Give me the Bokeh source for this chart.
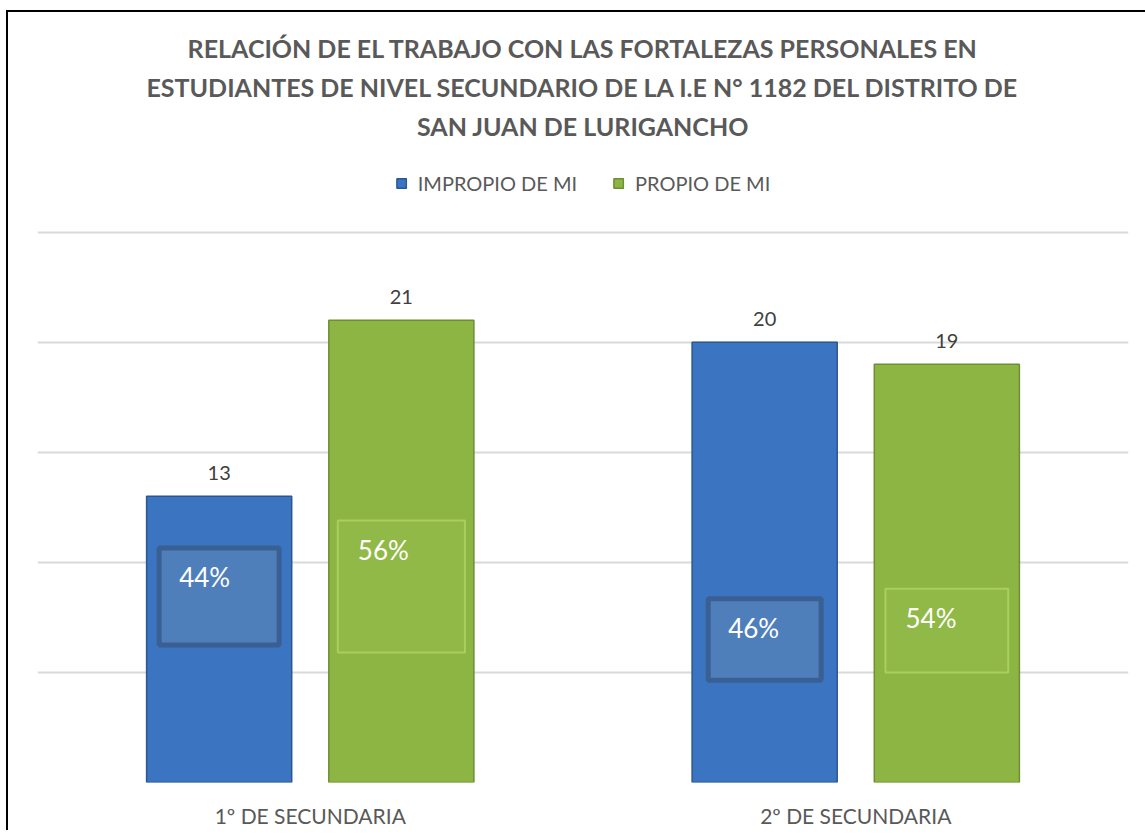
from bokeh.plotting import figure
from bokeh.layouts import column, row
from bokeh.models import ColumnDataSource, FactorRange, FixedTicker, Legend, LegendItem, Title, Spacer
from bokeh.transform import dodge
from bokeh.core.properties import value
from bokeh.embed import file_html
from bokeh.resources import INLINE

# ---------------- data ----------------
categories = ["1º DE SECUNDARIA", "2º DE SECUNDARIA"]
series_names = ["IMPROPIO DE MI", "PROPIO DE MI"]
impropio = [13, 20]
propio = [21, 19]
impropio_pct = ["44%", "46%"]
propio_pct = ["56%", "54%"]
y_ticks = [0, 5, 10, 15, 20, 25]
title_lines = [
    "RELACIÓN DE EL TRABAJO CON LAS FORTALEZAS PERSONALES EN",
    "ESTUDIANTES DE NIVEL SECUNDARIO DE LA I.E N° 1182 DEL DISTRITO DE",
    "SAN JUAN DE LURIGANCHO",
]

# ---------------- layout / style (not data) ----------------
FONT = "Lato"
BAR_W = 0.266
OFF = 0.167
Y_END = 28.98         # head-room above the top gridline for the legend
# percentage label boxes (placement in value units)
imp_box_y = [8.45, 6.5]
imp_box_h = [4.4, 3.7]
imp_box_w = [0.22, 0.207]
pro_box_y = [8.9, 6.9]
pro_box_h = [6.0, 3.8]
pro_box_w = [0.233, 0.225]

BLUE = "#3b74c0"
BLUE_LINE = "#2b5690"
GREEN = "#8db543"
GREEN_LINE = "#6e8e33"

src = ColumnDataSource(dict(cat=categories, imp=impropio, pro=propio,
                            imp_lbl=[str(v) for v in impropio],
                            pro_lbl=[str(v) for v in propio]))

p = figure(x_range=FactorRange(*categories, range_padding=0), y_range=(0, Y_END),
           width=1137, height=803, output_backend="svg", toolbar_location=None,
           title=None, min_border_left=29, min_border_right=17, min_border_bottom=0,
           min_border_top=0)
p.outline_line_color = None
p.background_fill_color = "white"
p.border_fill_color = "white"

# grid / axes
p.yaxis.visible = False
p.yaxis.ticker = FixedTicker(ticks=y_ticks)
p.ygrid.ticker = FixedTicker(ticks=y_ticks)
p.ygrid.grid_line_color = "#d9d9d9"
p.ygrid.grid_line_width = 2
p.xgrid.grid_line_color = None
p.xaxis.axis_line_color = None
p.xaxis.major_tick_line_color = None
p.xaxis.minor_tick_line_color = None
p.xaxis.major_tick_out = 0
p.xaxis.major_tick_in = 0
p.xaxis.major_label_text_font = FONT
p.xaxis.major_label_text_font_size = "21px"
p.xaxis.major_label_text_color = "#595959"
p.xaxis.major_label_standoff = 20

# bars
r_imp = p.vbar(x=dodge("cat", -OFF, range=p.x_range), top="imp", width=BAR_W, source=src,
               fill_color=BLUE, line_color=BLUE_LINE, line_width=1.5)
r_pro = p.vbar(x=dodge("cat", OFF, range=p.x_range), top="pro", width=BAR_W, source=src,
               fill_color=GREEN, line_color=GREEN_LINE, line_width=1.5)

# value labels
p.text(x=dodge("cat", -OFF, range=p.x_range), y="imp", text="imp_lbl", source=src,
       text_align="center", text_baseline="bottom", y_offset=-16,
       text_font=value(FONT), text_font_size="20px", text_color="#404040")
p.text(x=dodge("cat", OFF, range=p.x_range), y="pro", text="pro_lbl", source=src,
       text_align="center", text_baseline="bottom", y_offset=-16,
       text_font=value(FONT), text_font_size="20px", text_color="#404040")

# percentage boxes
for i, c in enumerate(categories):
    ps = ColumnDataSource(dict(cat=[c], y=[imp_box_y[i]], h=[imp_box_h[i]],
                               ty=[imp_box_y[i] + imp_box_h[i] / 2], t=[impropio_pct[i]]))
    p.rect(x=dodge("cat", -OFF, range=p.x_range), y="y", width=imp_box_w[i], height="h",
           source=ps, fill_color="#4f7fbb", line_color="#3a5f92", line_width=5)
    p.text(x=dodge("cat", -OFF - imp_box_w[i] / 2, range=p.x_range), y="ty", text="t",
           source=ps, x_offset=20, y_offset=13, text_align="left", text_baseline="top",
           text_font=value(FONT), text_font_size="26px", text_color="white")
    ps2 = ColumnDataSource(dict(cat=[c], y=[pro_box_y[i]], h=[pro_box_h[i]],
                                ty=[pro_box_y[i] + pro_box_h[i] / 2], t=[propio_pct[i]]))
    p.rect(x=dodge("cat", OFF, range=p.x_range), y="y", width=pro_box_w[i], height="h",
           source=ps2, fill_color="#91b947", line_color="#a9d05f", line_width=2)
    p.text(x=dodge("cat", OFF - pro_box_w[i] / 2, range=p.x_range), y="ty", text="t",
           source=ps2, x_offset=20, y_offset=13, text_align="left", text_baseline="top",
           text_font=value(FONT), text_font_size="26px", text_color="white")

# legend inside the frame, above the top gridline
legend = Legend(items=[LegendItem(label=series_names[0], renderers=[r_imp]),
                       LegendItem(label=series_names[1], renderers=[r_pro])],
                orientation="horizontal", location="top_center",
                label_text_font=FONT, label_text_font_size="20px", label_text_color="#595959",
                glyph_width=12, glyph_height=12, label_standoff=11, spacing=35,
                border_line_color=None, background_fill_alpha=0, margin=27, padding=5)
p.add_layout(legend, "center")

# title lines (added bottom-up, first added is closest to the frame)
for line in reversed(title_lines):
    t = Title(text=line, align="center", text_font=FONT, text_font_style="bold",
              text_font_size="25px", text_color="#595959", standoff=7)
    p.add_layout(t, "above")

inner = column(Spacer(height=15), p,
               styles={"border-left": "2px solid #000000", "border-top": "2px solid #000000"})
layout = column(Spacer(height=10), row(Spacer(width=6), inner))

open("out.html", "w").write(file_html(layout, INLINE))
